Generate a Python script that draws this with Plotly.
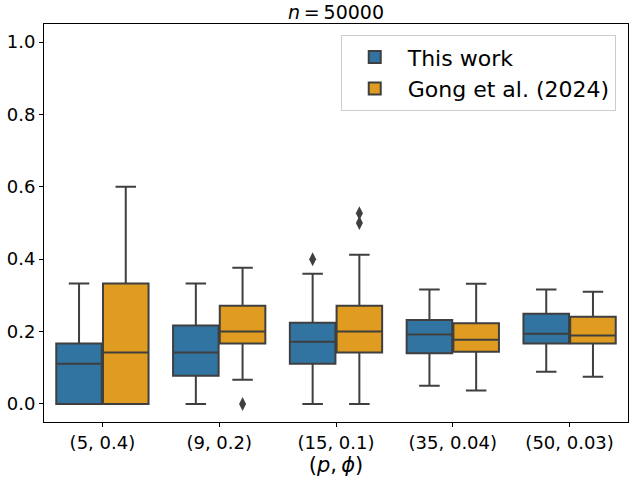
import plotly.graph_objects as go

categories = ["(5, 0.4)", "(9, 0.2)", "(15, 0.1)", "(35, 0.04)", "(50, 0.03)"]

# This work
a_low = [0.0, 0.0, 0.0, 0.05, 0.089]
a_q1 = [0.0, 0.0775, 0.111, 0.14, 0.167]
a_med = [0.111, 0.142, 0.1715, 0.192, 0.194]
a_q3 = [0.167, 0.217, 0.224, 0.232, 0.249]
a_high = [0.333, 0.333, 0.36, 0.316, 0.316]
a_out_cat = [2]
a_out_val = [0.4]

# Gong et al. (2024)
b_low = [0.0, 0.0667, 0.0, 0.037, 0.075]
b_q1 = [0.0, 0.167, 0.142, 0.144, 0.167]
b_med = [0.142, 0.2, 0.2, 0.177, 0.189]
b_q3 = [0.333, 0.271, 0.271, 0.223, 0.241]
b_high = [0.6, 0.376, 0.412, 0.332, 0.31]
b_out_cat = [1, 2, 2]
b_out_val = [0.0, 0.5, 0.527]

BLUE = "#3274a1"
ORANGE = "#df9c20"
LINE = "#3f3f3f"
OFFSET = 0.2
WIDTH = 0.39

idx = list(range(len(categories)))
fig = go.Figure()

series = [
    ("This work", BLUE, -OFFSET, a_low, a_q1, a_med, a_q3, a_high, a_out_cat, a_out_val),
    ("Gong et al. (2024)", ORANGE, OFFSET, b_low, b_q1, b_med, b_q3, b_high, b_out_cat, b_out_val),
]
for name, color, off, lo, q1, med, q3, hi, oc, ov in series:
    fig.add_trace(go.Box(
        name=name, x=[i + off for i in idx],
        lowerfence=lo, q1=q1, median=med, q3=q3, upperfence=hi,
        width=WIDTH, whiskerwidth=0.45,
        fillcolor=color, line=dict(color=LINE, width=2),
        boxpoints=False, showlegend=True,
    ))
    fig.add_trace(go.Scatter(
        x=[c + off for c in oc], y=ov, mode="markers",
        marker=dict(symbol="diamond-tall", size=10, color=LINE),
        showlegend=False, hoverinfo="skip",
    ))

fig.update_layout(
    width=640, height=480,
    margin=dict(l=44, r=12, t=24, b=58),
    paper_bgcolor="white", plot_bgcolor="white",
    font=dict(family="DejaVu Sans", size=18, color="black"),
    title=dict(text="<i>n</i>\u2009=\u200950000", x=0.525, xanchor="center", y=0.975, yanchor="middle",
               font=dict(size=19)),
    legend=dict(x=0.979, y=0.972, xanchor="right", yanchor="top",
                bgcolor="rgba(255,255,255,0.8)", bordercolor="#cccccc", borderwidth=1,
                font=dict(size=22), itemwidth=56, tracegroupgap=2),
    showlegend=True,
)
fig.update_xaxes(
    range=[-0.5, 4.5], tickmode="array", tickvals=idx, ticktext=categories,
    showline=True, linecolor="black", linewidth=1, mirror=True, automargin=False,
    ticks="outside", ticklen=4, tickcolor="black", showgrid=False, zeroline=False,
    title=dict(text="(<i>p</i>,\u2009<i>ϕ</i>)", font=dict(size=21), standoff=2),
)
fig.update_yaxes(
    range=[-0.05, 1.05], tickvals=[0, 0.2, 0.4, 0.6, 0.8, 1.0],
    ticktext=["0.0", "0.2", "0.4", "0.6", "0.8", "1.0"],
    showline=True, linecolor="black", linewidth=1, mirror=True, automargin=False,
    ticks="outside", ticklen=4, tickcolor="black", showgrid=False, zeroline=False,
)

fig.write_html("out.html", config={"displayModeBar": False},
               post_script="document.body.style.margin='0';")
